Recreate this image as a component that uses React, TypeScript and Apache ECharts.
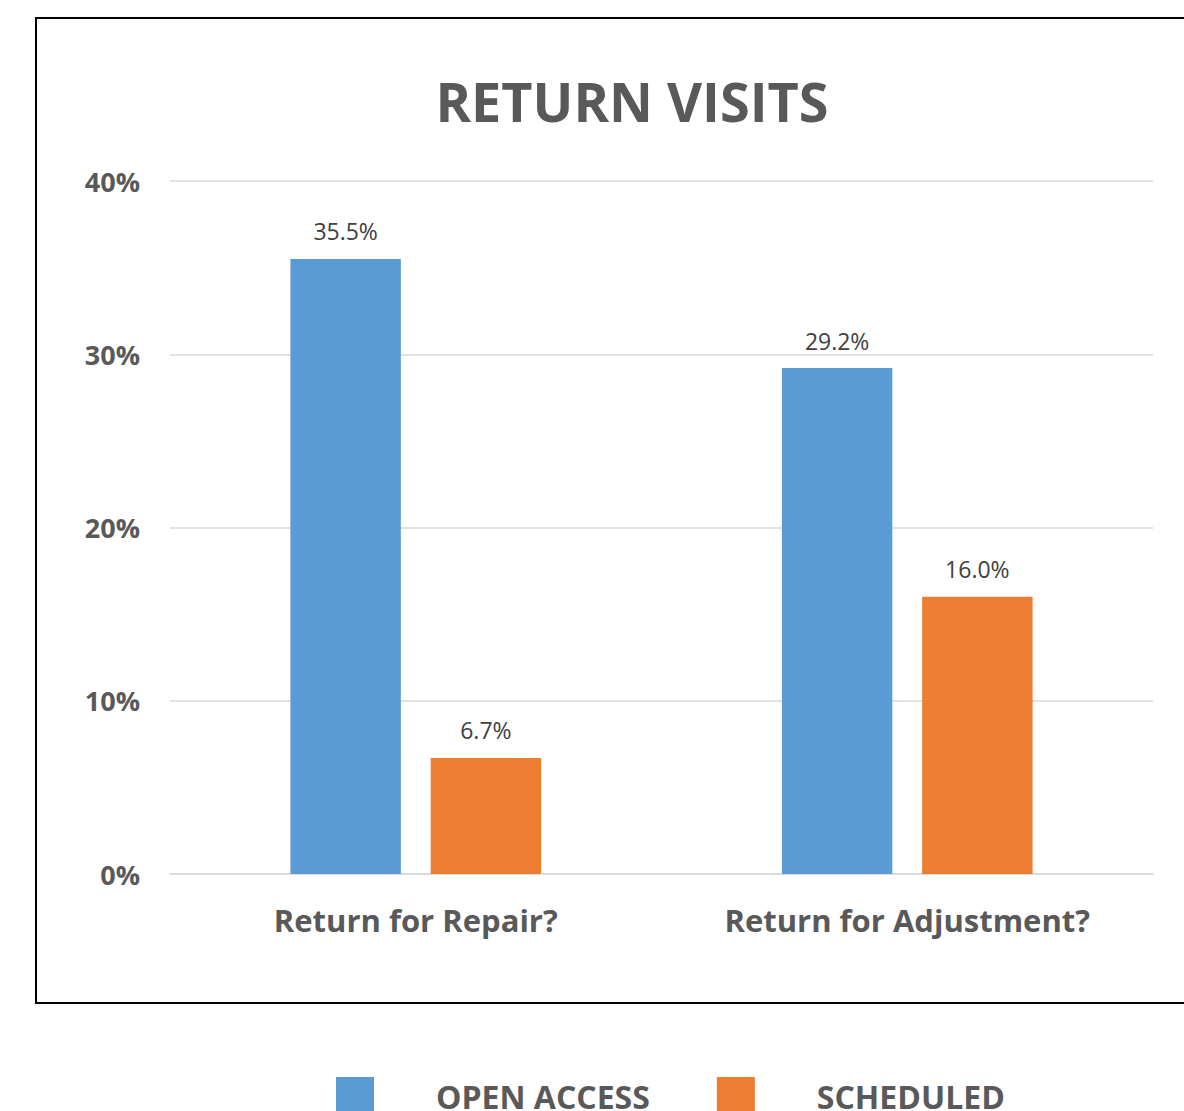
import React, { useEffect, useRef } from "react";
import * as echarts from "echarts";

const title = "RETURN VISITS";
const categories = ["Return for Repair?", "Return for Adjustment?"];
const seriesNames = ["OPEN ACCESS", "SCHEDULED"];
const openAccess = [35.5, 29.2];
const scheduled = [6.7, 16.0];
const yTicks = [0, 10, 20, 30, 40];
const colors = ["#5B9BD5", "#ED7D31"];

export default function App() {
  const ref = useRef<HTMLDivElement>(null);
  useEffect(() => {
    if (!ref.current) return;
    const chart = echarts.init(ref.current, undefined, { renderer: "svg" });
    const font = "'Open Sans', 'Noto Sans', sans-serif";
    const labelCfg = {
      show: true,
      position: "top",
      distance: 16,
      formatter: (p: any) => p.value.toFixed(1) + "%",
      fontFamily: font,
      fontSize: 23,
      color: "#404040",
    };
    chart.setOption({
      animation: false,
      backgroundColor: "#ffffff",
      title: {
        text: title,
        left: 627,
        top: 69,
        textAlign: "center",
        textStyle: {
          fontFamily: font,
          fontWeight: "bold",
          fontSize: 54,
          color: "#595959",
        },
      },
      graphic: [
        {
          type: "rect",
          shape: { x: 36, y: 18, width: 1200, height: 985 },
          style: { fill: "none", stroke: "#000000", lineWidth: 2 },
          silent: true,
          z: -1,
        },
      ],
      legend: {
        data: seriesNames,
        left: 331,
        top: 1072,
        itemWidth: 38,
        itemHeight: 38,
        itemGap: 67,
        icon: "rect",
        textStyle: {
          fontFamily: font,
          fontWeight: "bold",
          fontSize: 32,
          color: "#595959",
          padding: [0, 0, 0, 57],
        },
      },
      grid: { left: 170, right: 31, top: 181, bottom: 237 },
      xAxis: {
        type: "category",
        data: categories,
        axisLine: { show: true, lineStyle: { color: "#d9d9d9", width: 1.5 } },
        axisTick: { show: false },
        axisLabel: {
          margin: 30,
          fontFamily: font,
          fontWeight: "bold",
          fontSize: 31,
          color: "#595959",
        },
      },
      yAxis: {
        type: "value",
        min: yTicks[0],
        max: yTicks[yTicks.length - 1],
        interval: 10,
        axisLine: { show: false },
        axisTick: { show: false },
        splitLine: { lineStyle: { color: "#d9d9d9", width: 1.5 } },
        axisLabel: {
          margin: 30,
          fontFamily: font,
          fontWeight: "bold",
          fontSize: 27,
          color: "#595959",
          formatter: (v: number) => v + "%",
        },
      },
      series: [
        {
          name: seriesNames[0],
          type: "bar",
          data: openAccess,
          itemStyle: { color: colors[0] },
          barGap: "27%",
          barCategoryGap: "49%",
          label: labelCfg,
        },
        {
          name: seriesNames[1],
          type: "bar",
          data: scheduled,
          itemStyle: { color: colors[1] },
          barGap: "27%",
          barCategoryGap: "49%",
          label: labelCfg,
        },
      ],
    });
    return () => chart.dispose();
  }, []);
  return (
    <div
      ref={ref}
      style={{ position: "fixed", left: 0, top: 0, width: 1184, height: 1111 }}
    />
  );
}
